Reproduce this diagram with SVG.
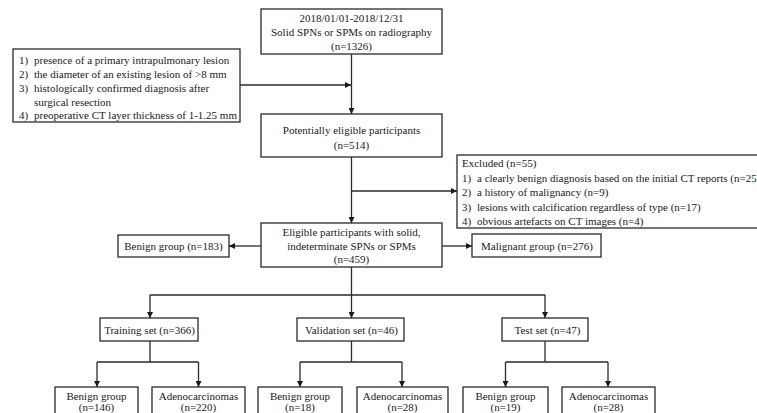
<svg xmlns="http://www.w3.org/2000/svg" width="757" height="413" viewBox="0 0 757 413">
<defs>
<marker id="ah" viewBox="0 0 10 10" refX="10" refY="5" markerWidth="6" markerHeight="6" markerUnits="userSpaceOnUse" orient="auto">
<path d="M0,0 L10,5 L0,10 z" fill="#1a1a1a"/>
</marker>
</defs>
<style>
rect{fill:#fff;stroke:#2a2a2a;stroke-width:1.3}
text{font-family:"Liberation Serif","Times New Roman",serif;font-size:11px;fill:#1a1a1a}
.c{text-anchor:middle}
#connectors path{fill:none;stroke:#2a2a2a;stroke-width:1.3}
.a{marker-end:url(#ah)}
</style>
<rect x="0" y="0" width="757" height="413" style="fill:#fff;stroke:none"/>
<g id="connectors">
<path class="a" d="M351.5,54 V114"/>
<path class="a" d="M240,85 H351"/>
<path class="a" d="M351.5,157 V223"/>
<path class="a" d="M351.5,191 H457"/>
<path class="a" d="M261,246 H229"/>
<path class="a" d="M442,246 H472"/>
<path d="M351.5,267 V295 M150,295 H545"/>
<path class="a" d="M150,295 V318"/>
<path class="a" d="M351.5,295 V318"/>
<path class="a" d="M545,295 V318"/>
<path d="M150,341 V362 M97,362 H198.5 M351.5,341 V362 M300,362 H402 M545,341 V362 M505.5,362 H608"/>
<path class="a" d="M97,362 V387"/>
<path class="a" d="M198.5,362 V387"/>
<path class="a" d="M300,362 V387"/>
<path class="a" d="M402,362 V387"/>
<path class="a" d="M505.5,362 V387"/>
<path class="a" d="M608,362 V387"/>
</g>
<g id="n-source">
<rect x="261" y="9" width="181" height="45"/>
<text class="c" x="351.5" y="21.5">2018/01/01-2018/12/31</text>
<text class="c" x="351.5" y="35.5">Solid SPNs or SPMs on radiography</text>
<text class="c" x="351.5" y="49.5">(n=1326)</text>
</g>
<g id="n-criteria">
<rect x="13" y="49" width="227" height="73"/>
<text x="19" y="63.5">1)</text><text x="34" y="63.5">presence of a primary intrapulmonary lesion</text>
<text x="19" y="77.5">2)</text><text x="34" y="77.5">the diameter of an existing lesion of &gt;8 mm</text>
<text x="19" y="91.5">3)</text><text x="34" y="91.5">histologically confirmed diagnosis after</text>
<text x="34" y="105.5">surgical resection</text>
<text x="19" y="119">4)</text><text x="34" y="119">preoperative CT layer thickness of 1-1.25 mm</text>
</g>
<g id="n-potential">
<rect x="261" y="114" width="181" height="43"/>
<text class="c" x="351.5" y="134">Potentially eligible participants</text>
<text class="c" x="351.5" y="149">(n=514)</text>
</g>
<g id="n-excluded">
<rect x="457" y="155" width="310" height="73"/>
<text x="462" y="167">Excluded (n=55)</text>
<text x="462" y="181.5">1)</text><text x="477" y="181.5">a clearly benign diagnosis based on the initial CT reports (n=25)</text>
<text x="462" y="196">2)</text><text x="477" y="196">a history of malignancy (n=9)</text>
<text x="462" y="210.5">3)</text><text x="477" y="210.5">lesions with calcification regardless of type (n=17)</text>
<text x="462" y="225">4)</text><text x="477" y="225">obvious artefacts on CT images (n=4)</text>
</g>
<g id="n-eligible">
<rect x="261" y="223" width="181" height="44"/>
<text class="c" x="351.5" y="236">Eligible participants with solid,</text>
<text class="c" x="351.5" y="250">indeterminate SPNs or SPMs</text>
<text class="c" x="351.5" y="263">(n=459)</text>
</g>
<g id="n-benign">
<rect x="118" y="235" width="111" height="22"/>
<text class="c" x="173.5" y="250">Benign group (n=183)</text>
</g>
<g id="n-malignant">
<rect x="472" y="234" width="129" height="23"/>
<text class="c" x="537" y="250">Malignant group (n=276)</text>
</g>
<g id="n-training">
<rect x="100" y="318" width="98" height="23"/>
<text class="c" x="149.5" y="333.5">Training set (n=366)</text>
</g>
<g id="n-validation">
<rect x="297" y="318" width="107" height="23"/>
<text class="c" x="351.5" y="333.5">Validation set (n=46)</text>
</g>
<g id="n-test">
<rect x="502" y="318" width="86" height="23"/>
<text class="c" x="547.5" y="333.5">Test set (n=47)</text>
</g>
<g id="n-train-benign">
<rect x="55" y="387" width="83" height="40"/>
<text class="c" x="96.5" y="400">Benign group</text>
<text class="c" x="96.5" y="411">(n=146)</text>
</g>
<g id="n-train-adeno">
<rect x="152" y="387" width="93" height="40"/>
<text class="c" x="198.5" y="400">Adenocarcinomas</text>
<text class="c" x="198.5" y="411">(n=220)</text>
</g>
<g id="n-val-benign">
<rect x="258" y="387" width="84" height="40"/>
<text class="c" x="300" y="400">Benign group</text>
<text class="c" x="300" y="411">(n=18)</text>
</g>
<g id="n-val-adeno">
<rect x="357" y="387" width="91" height="40"/>
<text class="c" x="402.5" y="400">Adenocarcinomas</text>
<text class="c" x="402.5" y="411">(n=28)</text>
</g>
<g id="n-test-benign">
<rect x="463" y="387" width="85" height="40"/>
<text class="c" x="505.5" y="400">Benign group</text>
<text class="c" x="505.5" y="411">(n=19)</text>
</g>
<g id="n-test-adeno">
<rect x="562" y="387" width="93" height="40"/>
<text class="c" x="608.5" y="400">Adenocarcinomas</text>
<text class="c" x="608.5" y="411">(n=28)</text>
</g>
</svg>
